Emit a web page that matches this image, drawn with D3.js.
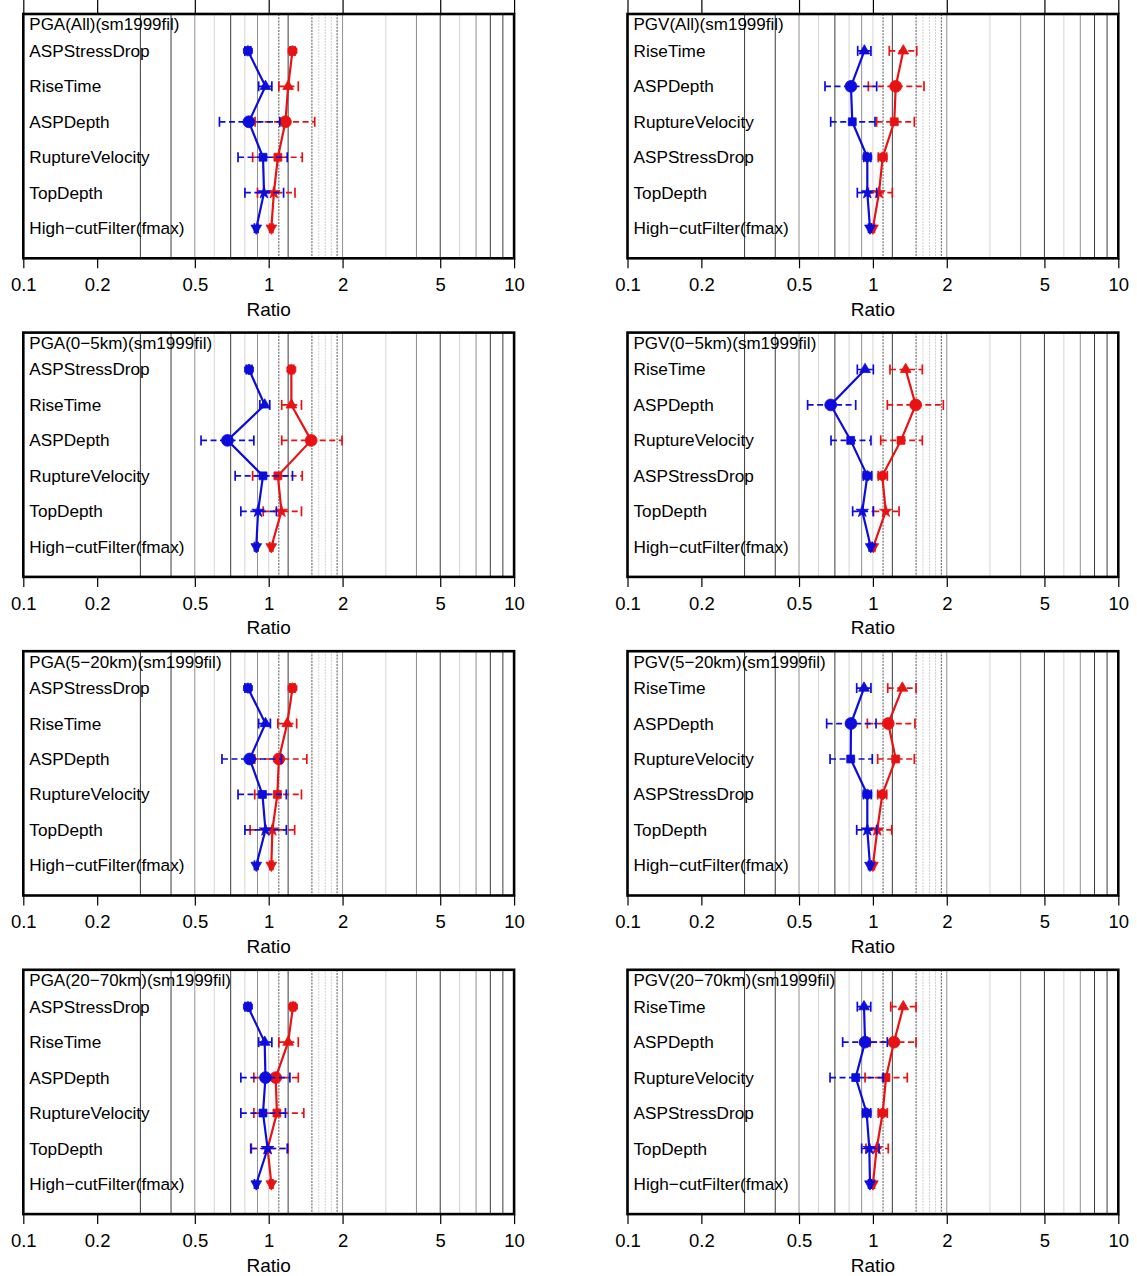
<!DOCTYPE html>
<html><head><meta charset="utf-8">
<script src="https://cdn.jsdelivr.net/npm/d3@7"></script>
<style>
body{margin:0;background:#fff}
text{font-family:"Liberation Sans",Arial,Helvetica,sans-serif;fill:#000}
</style>
</head><body>
<svg id="chart" width="1137" height="1276"></svg>
<script>
// ---------------- data ----------------
const pgaCategories = ["ASPStressDrop","RiseTime","ASPDepth","RuptureVelocity","TopDepth","High\u2212cutFilter(fmax)"];
const pgvCategories = ["RiseTime","ASPDepth","RuptureVelocity","ASPStressDrop","TopDepth","High\u2212cutFilter(fmax)"];
const panelTitles = [
  "PGA(All)(sm1999fil)","PGV(All)(sm1999fil)",
  "PGA(0\u22125km)(sm1999fil)","PGV(0\u22125km)(sm1999fil)",
  "PGA(5\u221220km)(sm1999fil)","PGV(5\u221220km)(sm1999fil)",
  "PGA(20\u221270km)(sm1999fil)","PGV(20\u221270km)(sm1999fil)"
];
const xTickValues = [0.1,0.2,0.5,1,2,5,10];
const xTickLabels = ["0.1","0.2","0.5","1","2","5","10"];
const xAxisTitle = "Ratio";
const gridDark = [0.3,0.4,0.7,1.2,5,8,9];
const gridMid = [0.5,0.9,2,4,7];
const gridLight = [0.6,0.8,1.0,3,6];
const gridDashDark = [1.1,1.5,1.9];
const gridDashLight = [1.6,1.7,1.8];

// each entry: [ratio, lower, upper]
const pgaAllBlue  = [[0.823,0.80,0.845],[0.97,0.91,1.03],[0.83,0.63,1.11],[0.948,0.75,1.19],[0.957,0.80,1.15],[0.89,0.875,0.905]];
const pgaAllRed   = [[1.25,1.22,1.28],[1.20,1.10,1.32],[1.17,0.88,1.54],[1.09,0.86,1.37],[1.05,0.90,1.28],[1.025,1.01,1.04]];
const pga05Blue   = [[0.831,0.81,0.855],[0.963,0.92,1.01],[0.679,0.53,0.87],[0.948,0.73,1.25],[0.905,0.77,1.075],[0.89,0.875,0.905]];
const pga05Red    = [[1.237,1.21,1.265],[1.237,1.13,1.36],[1.49,1.13,1.99],[1.09,0.86,1.37],[1.127,0.95,1.36],[1.025,1.01,1.04]];
const pga520Blue  = [[0.823,0.80,0.845],[0.97,0.91,1.016],[0.837,0.645,1.127],[0.943,0.75,1.18],[0.97,0.80,1.18],[0.89,0.875,0.905]];
const pga520Red   = [[1.25,1.22,1.28],[1.19,1.09,1.30],[1.10,0.877,1.43],[1.085,0.877,1.36],[1.035,0.84,1.276],[1.025,1.01,1.04]];
const pga2070Blue = [[0.823,0.80,0.845],[0.963,0.91,1.03],[0.97,0.77,1.22],[0.948,0.77,1.17],[0.99,0.845,1.19],[0.89,0.875,0.905]];
const pga2070Red  = [[1.256,1.225,1.285],[1.20,1.10,1.32],[1.068,0.87,1.32],[1.08,0.87,1.39],[0.99,0.85,1.20],[1.025,1.01,1.04]];
const pgvAllBlue  = [[0.923,0.867,0.982],[0.814,0.638,1.036],[0.824,0.673,1.02],[0.949,0.918,0.981],[0.949,0.864,1.036],[0.973,0.96,0.986]];
const pgvAllRed   = [[1.33,1.166,1.509],[1.239,0.958,1.615],[1.222,1.036,1.475],[1.096,1.052,1.138],[1.059,0.958,1.2],[1.0,0.985,1.015]];
const pgv05Blue   = [[0.929,0.864,1.004],[0.673,0.542,0.851],[0.812,0.675,0.982],[0.949,0.914,0.989],[0.905,0.827,1.004],[0.98,0.965,0.995]];
const pgv05Red    = [[1.36,1.174,1.59],[1.494,1.145,1.936],[1.302,1.076,1.59],[1.092,1.052,1.145],[1.128,1.004,1.278],[1.004,0.99,1.02]];
const pgv520Blue  = [[0.92,0.859,0.982],[0.814,0.648,1.03],[0.812,0.669,0.994],[0.949,0.915,0.985],[0.949,0.859,1.036],[0.973,0.96,0.986]];
const pgv520Red   = [[1.318,1.149,1.499],[1.155,0.949,1.484],[1.239,1.046,1.475],[1.092,1.046,1.138],[1.042,0.949,1.193],[1.0,0.985,1.015]];
const pgv2070Blue = [[0.92,0.864,0.98],[0.929,0.753,1.145],[0.851,0.669,1.102],[0.943,0.909,0.98],[0.967,0.9,1.059],[0.973,0.96,0.986]];
const pgv2070Red  = [[1.33,1.182,1.499],[1.219,0.973,1.499],[1.131,0.929,1.381],[1.096,1.052,1.145],[1.036,0.937,1.155],[1.0,0.985,1.015]];

// ---------------- layout ----------------
const panels = [
  {title:panelTitles[0], cats:pgaCategories, blue:pgaAllBlue,  red:pgaAllRed,  col:0,row:0},
  {title:panelTitles[1], cats:pgvCategories, blue:pgvAllBlue,  red:pgvAllRed,  col:1,row:0},
  {title:panelTitles[2], cats:pgaCategories, blue:pga05Blue,   red:pga05Red,   col:0,row:1},
  {title:panelTitles[3], cats:pgvCategories, blue:pgv05Blue,   red:pgv05Red,   col:1,row:1},
  {title:panelTitles[4], cats:pgaCategories, blue:pga520Blue,  red:pga520Red,  col:0,row:2},
  {title:panelTitles[5], cats:pgvCategories, blue:pgv520Blue,  red:pgv520Red,  col:1,row:2},
  {title:panelTitles[6], cats:pgaCategories, blue:pga2070Blue, red:pga2070Red, col:0,row:3},
  {title:panelTitles[7], cats:pgvCategories, blue:pgv2070Blue, red:pgv2070Red, col:1,row:3}
];
const colLeft = [23.3, 627.5];
const panelW = 490.8;
const rowTop0 = 14, rowPitch = 318.6, panelH = 244.3;
const BLUE = "#0c0cdc", RED = "#e81212";

const svg = d3.select("#chart");

function hexPath(r){
  const pts = d3.range(6).map(i => {const a = Math.PI/6 + i*Math.PI/3; return [r*Math.cos(a), r*Math.sin(a)];});
  return "M" + pts.map(p=>p.join(",")).join("L") + "Z";
}
function markerPath(cat){
  if (cat.startsWith("ASPStress")) return hexPath(5.2);
  if (cat === "RiseTime") return d3.symbol(d3.symbolTriangle, 50)();
  if (cat === "ASPDepth") return d3.symbol(d3.symbolCircle, 110)();
  if (cat === "RuptureVelocity") return d3.symbol(d3.symbolSquare, 62)();
  if (cat === "TopDepth") return d3.symbol(d3.symbolStar, 48)();
  return d3.symbol(d3.symbolTriangle, 50)(); // inverted later
}

panels.forEach(p => {
  const left = colLeft[p.col];
  const top = rowTop0 + p.row*rowPitch;
  const bottom = top + panelH;
  const x = d3.scaleLog().domain([0.1,10]).range([left, left+panelW]);
  const y = d3.scaleLinear().domain([0.15, 7.04]).range([bottom, top]);
  const g = svg.append("g");

  // grid lines
  const gridSets = [
    {vals:gridLight, color:"#d4d4d4", dash:null, w:1},
    {vals:gridDashLight, color:"#cfcfcf", dash:"2,1", w:1},
    {vals:gridMid, color:"#8f8f8f", dash:null, w:1},
    {vals:gridDark, color:"#3a3a3a", dash:null, w:1},
    {vals:gridDashDark, color:"#555", dash:"2,1.2", w:1}
  ];
  gridSets.forEach(s => {
    g.selectAll(null).data(s.vals).enter().append("line")
      .attr("x1", d=>x(d)).attr("x2", d=>x(d))
      .attr("y1", top).attr("y2", bottom)
      .attr("stroke", s.color).attr("stroke-width", s.w)
      .attr("stroke-dasharray", s.dash);
  });

  // x axis
  const axis = d3.axisBottom(x).tickValues(xTickValues)
    .tickFormat((d,i)=>xTickLabels[i]).tickSize(10).tickPadding(8);
  const ag = g.append("g").attr("transform", `translate(0,${bottom})`).call(axis);
  ag.select(".domain").remove();
  ag.selectAll(".tick line").attr("stroke","#000").attr("stroke-width",1.2);
  ag.selectAll(".tick text").style("font-size","18.5px").attr("dy","0.32em").attr("y", 27);
  if (p.row === 0) {
    const axTop = d3.axisTop(x).tickValues(xTickValues).tickFormat("").tickSize(14);
    const tg = g.append("g").attr("transform", `translate(0,${top})`).call(axTop);
    tg.select(".domain").remove();
    tg.selectAll(".tick line").attr("stroke","#000").attr("stroke-width",1.2);
  }
  g.append("text").attr("x", x(1)).attr("y", bottom + 51).attr("text-anchor","middle")
    .attr("dominant-baseline","central").style("font-size","19px").text(xAxisTitle);

  // labels
  const yIdx = i => 6 - i;
  g.append("text").attr("x", left+6).attr("y", y(6.73)).attr("dominant-baseline","central")
    .style("font-size","17px").text(p.title);
  g.selectAll(null).data(p.cats).enter().append("text")
    .attr("x", left+6).attr("y", (d,i)=>y(yIdx(i))).attr("dominant-baseline","central")
    .style("font-size","17.2px").text(d=>d);

  // series: red first, blue on top
  [[p.red, RED],[p.blue, BLUE]].forEach(([data, color]) => {
    const sg = g.append("g");
    // error bars
    data.forEach((d,i) => {
      const yy = y(yIdx(i));
      sg.append("line").attr("x1", x(d[1])).attr("x2", x(d[2])).attr("y1", yy).attr("y2", yy)
        .attr("stroke", color).attr("stroke-width", 1.7).attr("stroke-dasharray","6,3.5");
      [d[1], d[2]].forEach(v => {
        sg.append("line").attr("x1", x(v)).attr("x2", x(v)).attr("y1", yy-5).attr("y2", yy+5)
          .attr("stroke", color).attr("stroke-width", 1.7);
      });
    });
    // connecting line
    const line = d3.line().x(d=>x(d[0])).y((d,i)=>y(yIdx(i)));
    sg.append("path").datum(data).attr("d", line).attr("fill","none")
      .attr("stroke", color).attr("stroke-width", 2.2);
    // markers
    data.forEach((d,i) => {
      const cat = p.cats[i];
      const inv = cat.startsWith("High");
      sg.append("path").attr("d", markerPath(cat))
        .attr("transform", `translate(${x(d[0])},${y(yIdx(i))})` + (inv ? " rotate(180)" : ""))
        .attr("fill", color).attr("stroke", color).attr("stroke-width", 0.8);
    });
  });

  // frame
  g.append("rect").attr("x", left).attr("y", top).attr("width", panelW).attr("height", panelH)
    .attr("fill","none").attr("stroke","#000").attr("stroke-width",2.6);
});
</script>
</body></html>
